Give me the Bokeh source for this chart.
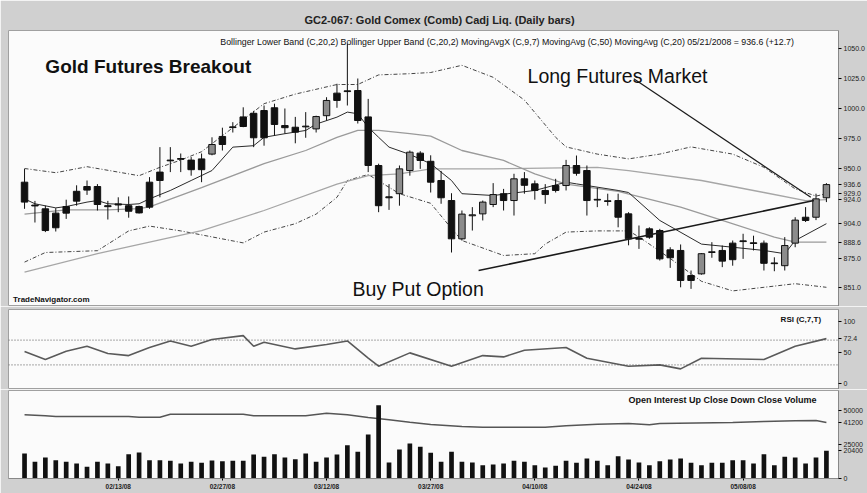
from bokeh.plotting import figure
from bokeh.layouts import column
from bokeh.models import Range1d, FixedTicker, Label, Span, PrintfTickFormatter, ColumnDataSource
from bokeh.embed import file_html
from bokeh.resources import INLINE

# ---------------- data ----------------
tick_idx = [9, 19, 29, 39, 49, 59, 69]
tick_labels = ["02/13/08", "02/27/08", "03/12/08", "03/27/08", "04/10/08", "04/24/08", "05/08/08"]

open_ = [938.6, 919.5, 916.4, 912.8, 918.3, 931.0, 935.0, 935.0, 919.0, 920.5,
         919.0, 918.3, 938.6, 947.0, 957.0, 958.3, 957.0, 958.0, 962.0, 976.7,
         984.7, 993.0, 996.0, 998.3, 1000.6, 985.8, 984.4, 985.3, 983.0, 994.0,
         1012.8, 1014.7, 1015.0, 993.0, 952.5, 926.4, 929.0, 948.3, 962.8, 956.0,
         940.0, 923.3, 891.4, 910.6, 912.2, 920.0, 929.0, 923.3, 941.4, 937.2,
         931.7, 935.8, 935.8, 952.5, 948.3, 924.3, 923.1, 923.3, 912.2, 891.7,
         899.7, 898.3, 882.2, 881.7, 860.8, 862.2, 880.0, 881.7, 887.8, 889.7,
         888.1, 887.8, 871.3, 869.0, 887.8, 909.4, 909.4, 925.6]
high = [949.7, 923.0, 919.0, 917.0, 924.0, 936.0, 940.0, 937.0, 923.0, 926.0,
        926.7, 919.0, 942.8, 967.8, 967.8, 962.5, 959.5, 962.5, 976.0, 984.0,
        988.6, 1001.0, 998.0, 1002.5, 1004.0, 1000.0, 993.0, 997.0, 994.0, 1009.4,
        1020.6, 1054.0, 1025.0, 1008.0, 954.0, 937.0, 952.5, 965.0, 964.4, 961.0,
        948.0, 929.4, 915.0, 917.8, 923.3, 937.8, 933.0, 945.6, 947.0, 940.0,
        937.0, 941.4, 957.2, 960.8, 952.5, 934.0, 929.0, 929.0, 913.6, 902.5,
        901.0, 899.7, 884.4, 886.7, 865.0, 879.5, 888.6, 885.8, 890.0, 895.6,
        894.0, 890.0, 876.0, 892.8, 909.4, 917.8, 929.0, 937.8]
low = [916.4, 905.0, 897.0, 897.5, 908.0, 919.0, 928.0, 915.0, 907.5, 913.6,
       909.0, 912.5, 916.4, 926.0, 947.0, 947.0, 944.0, 938.6, 961.0, 965.0,
       980.0, 984.4, 967.8, 969.0, 977.5, 979.0, 971.0, 975.6, 980.0, 990.0,
       1000.6, 1002.5, 987.5, 947.0, 913.6, 915.5, 919.0, 944.0, 949.7, 930.0,
       920.6, 880.0, 890.0, 898.3, 906.7, 917.8, 915.0, 910.8, 929.0, 924.0,
       920.6, 930.0, 931.7, 944.0, 910.8, 917.8, 919.0, 901.0, 886.0, 883.0,
       891.4, 873.3, 867.2, 851.0, 849.7, 861.5, 875.6, 867.8, 869.0, 874.7,
       881.7, 865.0, 864.4, 865.0, 884.4, 905.4, 907.0, 922.0]
close = [922.0, 918.8, 898.3, 900.6, 912.8, 922.8, 932.0, 920.0, 918.2, 919.6,
         914.4, 913.0, 917.8, 940.0, 956.4, 957.7, 949.0, 949.0, 970.0, 970.0,
         984.1, 985.0, 975.6, 975.6, 986.7, 984.0, 980.3, 984.7, 993.3, 1006.7,
         1006.7, 1014.1, 990.0, 952.5, 919.0, 925.6, 949.7, 963.6, 956.7, 938.6,
         925.6, 891.4, 912.0, 911.4, 922.0, 928.3, 923.3, 941.4, 936.0, 931.7,
         928.3, 931.7, 952.5, 946.0, 923.3, 923.7, 922.5, 909.4, 891.4, 891.1,
         892.8, 874.7, 875.6, 856.7, 856.7, 879.0, 880.6, 872.8, 874.0, 889.1,
         887.5, 871.0, 870.7, 885.8, 907.0, 906.7, 924.7, 936.6]
volume = [18400, 12300, 15400, 13500, 12300, 11000, 8600, 12300, 11000, 9000,
          17900, 19100, 13500, 13500, 13000, 11000, 12300, 11500, 13200, 12700,
          13000, 13000, 17600, 16000, 17900, 15400, 14200, 18400, 12300, 15400,
          17600, 24500, 19600, 32400, 53900, 11800, 21300, 25700, 23300, 18900,
          12300, 19600, 12300, 11800, 9800, 10300, 11000, 13000, 12300, 9800,
          8100, 9300, 13000, 11500, 14700, 13000, 9800, 16400, 14000, 11800,
          9800, 12700, 14000, 14700, 11500, 9800, 11500, 11500, 13500, 13500,
          11000, 17900, 9800, 16000, 15400, 11000, 15400, 20400]

bb_up_idx = [0, 3, 6, 9, 11, 13, 15, 17, 20, 23, 26, 30, 32, 34, 37, 39, 42, 45, 48, 51,
             52, 55, 58, 61, 64, 68, 71, 74, 76, 77]
bb_up = [950, 946.5, 951.5, 947, 944, 951, 957, 964, 984, 1004, 1012, 1020, 1020, 1028, 1029,
         1030, 1036, 1026, 1007, 976, 968, 962, 958, 962, 968, 962, 951, 933, 927, 929]
bb_lo_idx = [0, 2, 7, 10, 12, 15, 18, 21, 23, 26, 28, 30, 31, 33, 36, 39, 41, 42, 46, 49,
             50, 52, 55, 58, 59, 62, 65, 68, 71, 74, 77]
bb_lo = [872, 880, 881.5, 898, 902, 898, 893, 888, 897, 904, 912, 926, 940, 945, 929, 921,
         900, 890, 877.5, 879, 887, 897, 898, 898, 893, 875, 856, 848, 851, 854, 851]
ma50_idx = [0, 7, 17, 23, 30, 33, 36, 39, 45, 55, 58, 65, 71, 75, 77]
ma50 = [863.6, 879, 898.3, 915, 937, 944, 945.6, 949.7, 949.7, 951, 948.3, 940, 930, 923.3, 924]
ma20_idx = [0, 4, 8, 11, 12, 17, 23, 27, 30, 32, 34, 37, 39, 42, 46, 49, 52, 57, 63, 67, 72, 74, 77]
ma20 = [912, 915.5, 915.6, 916.5, 918, 934, 954, 965, 976, 981.7, 981.7, 979, 977, 965, 956.7,
        945.6, 937, 931, 917.8, 906.7, 892.8, 888.6, 888.6]
mavx_idx = [0, 1, 3, 4, 6, 7, 8, 10, 11, 12, 14, 16, 18, 20, 22, 23, 25, 27, 28, 30, 31, 32,
            33, 34, 35, 37, 39, 41, 42, 45, 49, 52, 53, 57, 58, 61, 65, 68, 71, 73, 74, 77]
mavx = [924.7, 920.6, 917.2, 918.3, 922, 923.3, 920.6, 920, 920.6, 924.7, 931.7, 940, 948.3,
        967.8, 969, 976, 979, 981.7, 987, 992.8, 997, 995.6, 984.4, 976, 967.8, 961.7, 954,
        940, 929, 927.5, 931.7, 938.6, 937.2, 931.7, 930, 906.7, 887, 884.4, 881.7, 879, 890, 904]
rsi_idx = [0, 2, 4, 6, 8, 10, 12, 14, 16, 18, 21, 22, 23, 26, 29, 31, 33, 34, 37, 41, 44, 46,
           48, 52, 54, 58, 61, 63, 65, 71, 74, 77]
rsi = [51.5, 38.6, 52, 60, 48.5, 45, 58, 68.7, 60, 71, 77.3, 60, 66.6, 55.8, 63, 68.7, 40.8,
       27.9, 49.4, 27.9, 45, 42.9, 53.7, 58, 40.8, 27.9, 30, 23.6, 40.8, 38.6, 60, 72.4]
oi_idx = [0, 2, 3, 10, 11, 13, 14, 21, 22, 27, 29, 31, 33, 35, 37, 39, 42, 44, 50, 52, 55, 58,
          60, 61, 68, 71, 74, 76, 77]
oi = [46800, 46200, 45600, 45600, 45100, 45100, 47300, 47300, 46100, 46100, 48000, 46800,
      44900, 43200, 41400, 39700, 38200, 37700, 37700, 38800, 39900, 40400, 39500, 40400,
      41200, 41900, 42400, 42600, 41200]
long_line_x = [58.5, 75.5]
long_line_y = [1024.7, 926.0]
put_line_x = [43.6, 75.8]
put_line_y = [865.0, 923.3]

# ---------------- styling helpers ----------------
FONT = "Liberation Sans"
BORDER = "#d0d0d0"
xr = Range1d(-1.54, 78.16)


def panel(fh, yr, top, bottom, xaxis):
    p = figure(frame_width=830, frame_height=fh, x_range=xr, y_range=yr,
               output_backend="svg", toolbar_location=None,
               y_axis_location="right", x_axis_location=("below" if xaxis else None),
               min_border_left=8, min_border_right=29, min_border_top=top,
               min_border_bottom=bottom)
    p.background_fill_color = "#fbfbfb"
    p.border_fill_color = BORDER
    p.outline_line_color = "#a0a0a0"
    p.grid.visible = False
    ax = p.yaxis[0]
    ax.major_label_text_font = FONT
    ax.major_label_text_font_size = "7px"
    ax.major_label_text_color = "#222222"
    ax.minor_tick_line_color = None
    ax.major_tick_in = 0
    ax.major_tick_out = 3
    ax.major_label_standoff = 2
    ax.axis_line_color = "#888888"
    return p


def note(p, x, y, txt, size, style="normal", align="left", color="#111111"):
    p.add_layout(Label(x=x, y=y, text=txt, text_font=FONT, text_font_size=size,
                       text_font_style=style, text_align=align, text_color=color,
                       text_baseline="alphabetic"))


def set_ticks(ax, regular, marked, fmt):
    ticks = list(regular) + list(marked)
    ax.ticker = FixedTicker(ticks=ticks)
    ax.major_label_overrides = {t: fmt(t) for t in ticks}


n = len(close)
idx = list(range(n))

# ---------------- price panel ----------------
p1 = panel(276, Range1d(835, 1065), 30, 0, False)
p1.title.text = "GC2-067:  Gold Comex (Comb) Cadj Liq. (Daily bars)"
p1.title.align = "left"
p1.title.offset = 296
p1.title.text_font = FONT
p1.title.text_font_size = "11px"
p1.title.text_font_style = "bold"
p1.title.text_color = "#222222"
set_ticks(p1.yaxis[0], [875, 950, 975, 1000, 1025, 1050],
          [close[-1], bb_up[-1], ma50[-1], mavx[-1], ma20[-1], bb_lo[-1]],
          lambda t: f"{t:.1f}")

p1.line(bb_up_idx, bb_up, line_color="#444444", line_width=1, line_dash="4 2 1 2")
p1.line(bb_lo_idx, bb_lo, line_color="#444444", line_width=1, line_dash="4 2 1 2")
p1.line(ma50_idx, ma50, line_color="#a6a6a6", line_width=1.3)
p1.line(ma20_idx, ma20, line_color="#9a9a9a", line_width=1.3)
p1.line(mavx_idx, mavx, line_color="#2a2a2a", line_width=1)

src = ColumnDataSource(dict(
    x=idx, o=open_, h=high, l=low, c=close,
    top=[max(a, b) for a, b in zip(open_, close)],
    bot=[min(a, b) for a, b in zip(open_, close)],
    fill=["#8c8c8c" if b > a else "#111111" for a, b in zip(open_, close)],
))
p1.segment(x0="x", y0="h", x1="x", y1="l", source=src, line_color="#111111", line_width=1)
p1.vbar(x="x", width=0.62, top="top", bottom="bot", source=src, fill_color="fill",
        line_color="#111111", line_width=1)

p1.line(long_line_x, long_line_y, line_color="#1a1a1a", line_width=1.2)
p1.line(put_line_x, put_line_y, line_color="#1a1a1a", line_width=1.6)

note(p1, 2.0, 1035, "Gold Futures Breakout", "19px", "bold")
note(p1, 48.3, 1027.5, "Long Futures Market", "19.5px")
note(p1, 31.5, 850, "Buy Put Option", "19.5px")
note(p1, -1.1, 840.5, "TradeNavigator.com", "8px", "bold")
note(p1, 18.8, 1055.5,
     "Bollinger Lower Band (C,20,2)  Bollinger Upper Band (C,20,2)  MovingAvgX (C,9,7)  "
     "MovingAvg (C,50)  MovingAvg (C,20)  05/21/2008 = 936.6 (+12.7)", "8.8px")

# ---------------- RSI panel ----------------
p2 = panel(80, Range1d(-9.7, 119.4), 3, 0, False)
set_ticks(p2.yaxis[0], [0, 50, 100], [rsi[-1]],
          lambda t: f"{t:.1f}" if t not in (0, 50, 100) else str(int(t)))
for lvl in (70, 30):
    p2.add_layout(Span(location=lvl, dimension="width", line_color="#555555",
                       line_width=1, line_dash="1 2"))
p2.line(rsi_idx, rsi, line_color="#5a5a5a", line_width=1.6)
note(p2, 72.6, 104, "RSI (C,7,T)", "8px", "bold")

# ---------------- volume panel ----------------
p3 = panel(88, Range1d(0, 64700), 1, 15, True)
set_ticks(p3.yaxis[0], [0, 25000, 50000], [oi[-1], volume[-1]], lambda t: str(int(t)))
p3.line(oi_idx, oi, line_color="#555555", line_width=1.5)
p3.vbar(x=idx, width=0.45, top=volume, bottom=0, fill_color="#111111", line_color=None)
note(p3, 58.0, 57500, "Open Interest  Up Close  Down Close  Volume", "9px", "bold")

xa = p3.xaxis[0]
xa.ticker = FixedTicker(ticks=tick_idx)
xa.major_label_overrides = {t: s for t, s in zip(tick_idx, tick_labels)}
xa.major_label_text_font = FONT
xa.major_label_text_font_size = "6.5px"
xa.major_label_text_font_style = "bold"
xa.major_label_text_color = "#222222"
xa.major_tick_in = 0
xa.major_tick_out = 2
xa.minor_tick_line_color = None
xa.axis_line_color = "#888888"
xa.major_label_standoff = 2

layout = column(p1, p2, p3, spacing=0)
open("out.html", "w").write(file_html(layout, INLINE))
